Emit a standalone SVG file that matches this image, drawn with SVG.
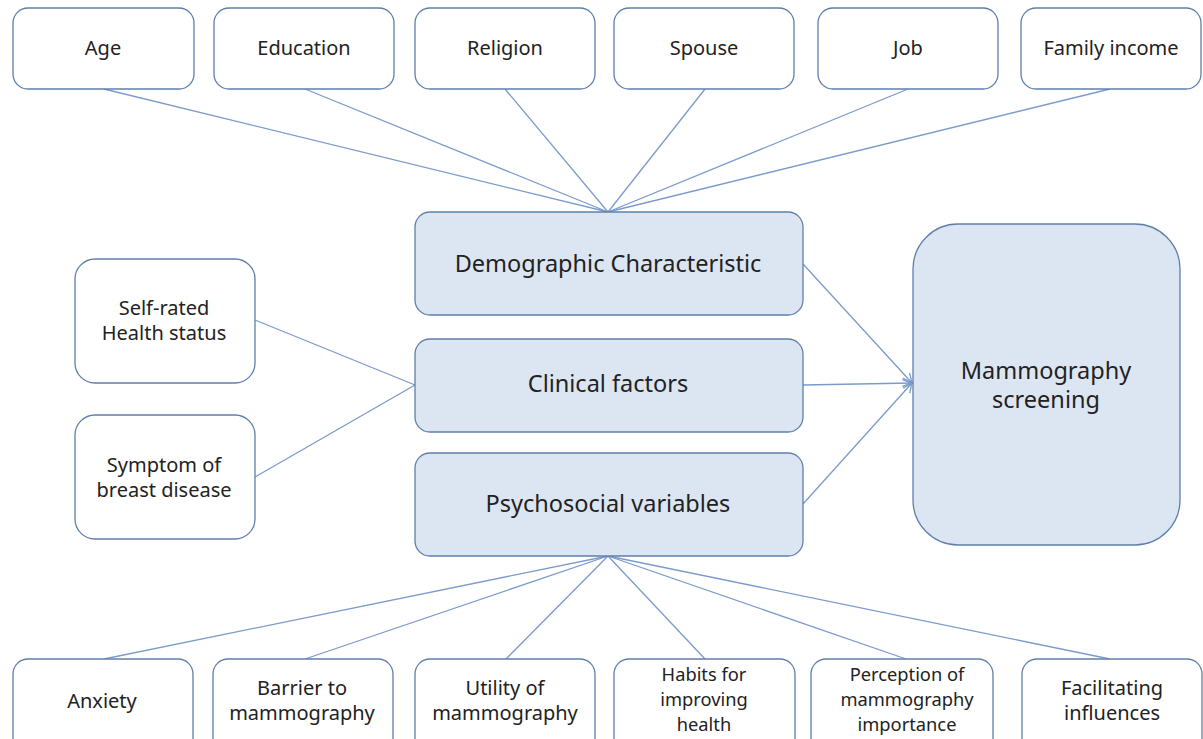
<svg xmlns="http://www.w3.org/2000/svg" width="1203" height="739" viewBox="0 0 1203 739">
<style>
.box{fill:#ffffff;stroke:#5f7fab;stroke-width:1.3}
.main{fill:#dce6f2;stroke:#5f7fab;stroke-width:1.3}
.t{font-family:"Noto Sans","Open Sans",sans-serif;font-size:20px;fill:#222;text-anchor:middle}
.t3{font-family:"Noto Sans","Open Sans",sans-serif;font-size:18.3px;fill:#222;text-anchor:middle}
.tm{font-family:"Noto Sans","Open Sans",sans-serif;font-size:23.5px;fill:#222;text-anchor:middle}
.c{stroke:#7a9bcc;stroke-width:1.3;fill:none}
</style>
<defs>
<marker id="arr" markerWidth="12" markerHeight="12" refX="10" refY="6" orient="auto" markerUnits="userSpaceOnUse">
<path d="M1,1 L10,6 L1,11" fill="none" stroke="#7a9bcc" stroke-width="1.3"/>
</marker>
</defs>
<rect width="1203" height="739" fill="#ffffff"/>
<g id="connectors">
<line class="c" x1="104" y1="89" x2="608" y2="212"/>
<line class="c" x1="305" y1="89" x2="608" y2="212"/>
<line class="c" x1="505" y1="89" x2="608" y2="212"/>
<line class="c" x1="705" y1="89" x2="608" y2="212"/>
<line class="c" x1="908" y1="89" x2="608" y2="212"/>
<line class="c" x1="1110" y1="89" x2="608" y2="212"/>
<line class="c" x1="255" y1="320" x2="415" y2="385"/>
<line class="c" x1="255" y1="477" x2="415" y2="385"/>
<line class="c" x1="803" y1="264" x2="912" y2="383" marker-end="url(#arr)"/>
<line class="c" x1="803" y1="385" x2="912" y2="383" marker-end="url(#arr)"/>
<line class="c" x1="803" y1="504" x2="912" y2="383" marker-end="url(#arr)"/>
<line class="c" x1="608" y1="556" x2="104" y2="659"/>
<line class="c" x1="608" y1="556" x2="305" y2="659"/>
<line class="c" x1="608" y1="556" x2="506" y2="659"/>
<line class="c" x1="608" y1="556" x2="705" y2="659"/>
<line class="c" x1="608" y1="556" x2="906" y2="659"/>
<line class="c" x1="608" y1="556" x2="1110" y2="659"/>
</g>
<g id="age"><rect class="box" x="13" y="8" width="181" height="81" rx="15"/><text class="t" x="103" y="55">Age</text></g>
<g id="education"><rect class="box" x="214" y="8" width="180" height="81" rx="15"/><text class="t" x="304" y="55">Education</text></g>
<g id="religion"><rect class="box" x="415" y="8" width="180" height="81" rx="15"/><text class="t" x="505" y="55">Religion</text></g>
<g id="spouse"><rect class="box" x="614" y="8" width="180" height="81" rx="15"/><text class="t" x="704" y="55">Spouse</text></g>
<g id="job"><rect class="box" x="818" y="8" width="180" height="81" rx="15"/><text class="t" x="908" y="55">Job</text></g>
<g id="income"><rect class="box" x="1021" y="8" width="180" height="81" rx="15"/><text class="t" x="1111" y="55">Family income</text></g>
<g id="demographic"><rect class="main" x="415" y="212" width="388" height="103" rx="15"/><text class="tm" x="608" y="272">Demographic Characteristic</text></g>
<g id="clinical"><rect class="main" x="415" y="339" width="388" height="93" rx="15"/><text class="tm" x="608" y="392">Clinical factors</text></g>
<g id="psychosocial"><rect class="main" x="415" y="453" width="388" height="103" rx="15"/><text class="tm" x="608" y="512">Psychosocial variables</text></g>
<g id="mammography"><rect class="main" x="913" y="224" width="267" height="321" rx="45"/><text class="tm" x="1046" y="379">Mammography</text><text class="tm" x="1046" y="408">screening</text></g>
<g id="selfrated"><rect class="box" x="75" y="259" width="180" height="124" rx="20"/><text class="t" x="164" y="315">Self-rated</text><text class="t" x="164" y="340">Health status</text></g>
<g id="symptom"><rect class="box" x="75" y="415" width="180" height="124" rx="20"/><text class="t" x="164" y="472">Symptom of</text><text class="t" x="164" y="497">breast disease</text></g>
<g id="anxiety"><rect class="box" x="13" y="659" width="180" height="100" rx="15"/><text class="t" x="102" y="708">Anxiety</text></g>
<g id="barrier"><rect class="box" x="213" y="659" width="180" height="100" rx="15"/><text class="t" x="302" y="695">Barrier to</text><text class="t" x="302" y="720">mammography</text></g>
<g id="utility"><rect class="box" x="415" y="659" width="180" height="100" rx="15"/><text class="t" x="505" y="695">Utility of</text><text class="t" x="505" y="720">mammography</text></g>
<g id="habits"><rect class="box" x="614" y="659" width="181" height="100" rx="15"/><text class="t3" x="704" y="681">Habits for</text><text class="t3" x="704" y="706">improving</text><text class="t3" x="704" y="731">health</text></g>
<g id="perception"><rect class="box" x="811" y="659" width="182" height="100" rx="15"/><text class="t3" x="907" y="681">Perception of</text><text class="t3" x="907" y="706">mammography</text><text class="t3" x="907" y="731">importance</text></g>
<g id="facilitating"><rect class="box" x="1022" y="659" width="180" height="100" rx="15"/><text class="t" x="1112" y="695">Facilitating</text><text class="t" x="1112" y="720">influences</text></g>
</svg>
